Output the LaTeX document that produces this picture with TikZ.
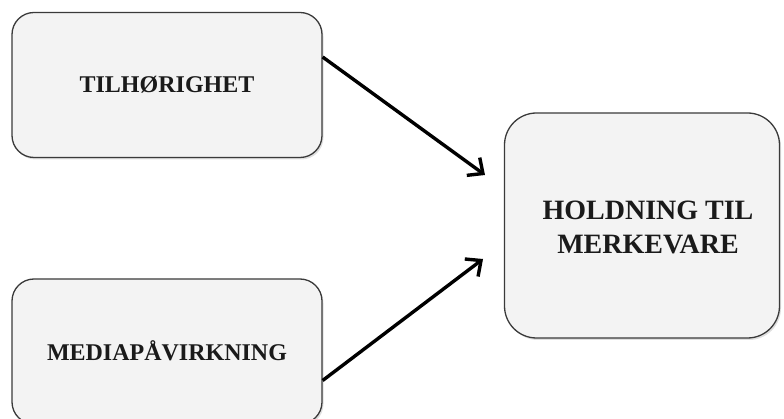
\documentclass[tikz,border=0pt]{standalone}
\usepackage{fontspec}
\setmainfont{Liberation Serif}
\usepackage{xcolor}
\usetikzlibrary{arrows.meta}
\usetikzlibrary{shadows}
\definecolor{boxfill}{HTML}{F3F3F3}
\definecolor{boxline}{HTML}{3A3A3A}
\definecolor{textdark}{HTML}{1A1A1A}
\tikzset{
    factor/.style={draw=boxline, line width=1.3pt, fill=boxfill, rounded corners=22pt,
        minimum width=310pt, minimum height=145pt, text=textdark,
        font=\fontsize{24}{27}\selectfont\bfseries,
        drop shadow={opacity=0.25, shadow xshift=1.5pt, shadow yshift=-2pt}},
    outcome/.style={factor, rounded corners=32pt, minimum width=275pt, minimum height=225pt},
    outcometext/.style={text=textdark, align=center, inner sep=0pt,
        font=\fontsize{28}{34}\selectfont\bfseries},
    effect/.style={-{Straight Barb[length=12pt, width=22pt]}, line width=3.4pt}}

\begin{document}
\begin{tikzpicture}[x=1pt, y=-1pt]

    \useasboundingbox (0,0) rectangle (784,419);

    \node[factor] (tilh) at (167,85) {TILHØRIGHET};
    \node[factor] (media) at (167,351.5) {\raisebox{1.5pt}{MEDIAPÅVIRKNING}};
    \node[outcome] (hold) at (642,225.5) {};
    \node[outcometext] (holdtxt) at (648,227) {HOLDNING TIL\\MERKEVARE};

    \coordinate (tipA) at (485,175);
    \coordinate (tipB) at (483,259);

    \draw[effect] ([yshift=28pt]tilh.east) -- (tipA);
    \draw[effect] ([yshift=-29pt]media.east) -- (tipB);

\end{tikzpicture}
\end{document}
